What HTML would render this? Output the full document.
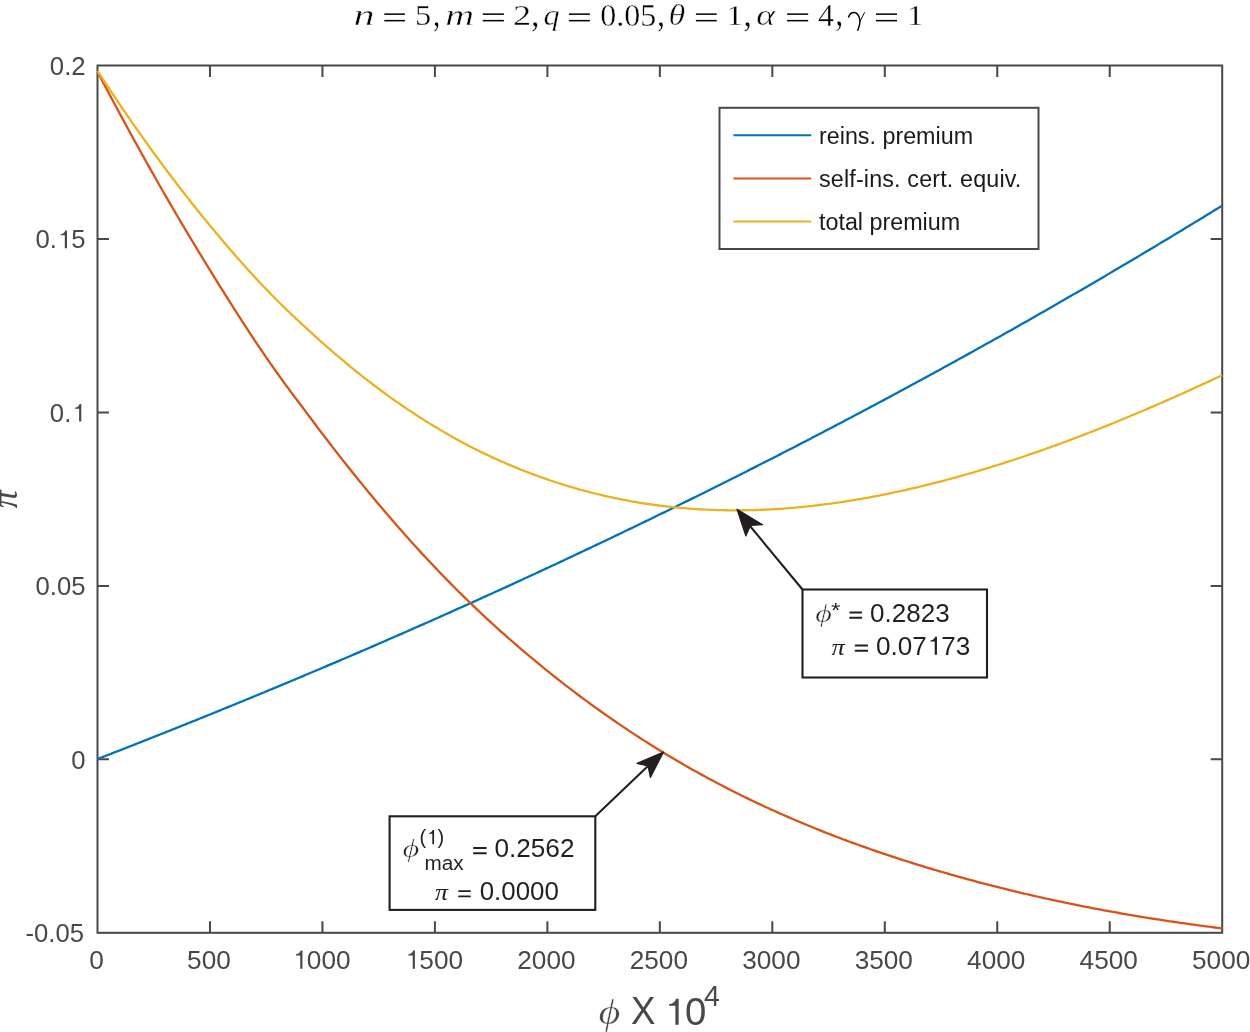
<!DOCTYPE html>
<html><head><meta charset="utf-8"><style>
html,body{margin:0;padding:0;background:#fff;overflow:hidden;}
svg{display:block;will-change:transform;}
text{font-family:"Liberation Sans",sans-serif;}
</style></head><body>
<svg width="1250" height="1032" viewBox="0 0 1250 1032">
<rect x="0" y="0" width="1250" height="1032" fill="#fff"/>
<g stroke="#46484b" stroke-width="2" fill="none">
<rect x="97.5" y="65.5" width="1124.7" height="867.3"/>
<path d="M209.97,932.80V921.30M209.97,65.50V77.00M322.44,932.80V921.30M322.44,65.50V77.00M434.91,932.80V921.30M434.91,65.50V77.00M547.38,932.80V921.30M547.38,65.50V77.00M659.85,932.80V921.30M659.85,65.50V77.00M772.32,932.80V921.30M772.32,65.50V77.00M884.79,932.80V921.30M884.79,65.50V77.00M997.26,932.80V921.30M997.26,65.50V77.00M1109.73,932.80V921.30M1109.73,65.50V77.00M97.50,238.96H109.00M1222.20,238.96H1210.70M97.50,412.42H109.00M1222.20,412.42H1210.70M97.50,585.88H109.00M1222.20,585.88H1210.70M97.50,759.34H109.00M1222.20,759.34H1210.70"/>
</g>
<g fill="none" stroke-width="2.3" stroke-linejoin="round">
<path d="M97.50,759.01 L98.50,758.62 L99.50,758.23 L100.50,757.84 L101.50,757.46 L102.50,757.07 L103.50,756.68 L104.50,756.29 L105.50,755.90 L106.50,755.51 L107.50,755.13 L108.50,754.74 L109.50,754.35 L110.50,753.96 L111.50,753.57 L112.50,753.18 L113.50,752.79 L114.50,752.40 L115.50,752.01 L116.50,751.62 L117.50,751.23 L118.50,750.84 L119.50,750.45 L120.50,750.06 L121.50,749.67 L122.50,749.28 L123.50,748.89 L124.50,748.49 L125.50,748.10 L126.50,747.71 L127.50,747.32 L128.50,746.93 L129.50,746.54 L130.50,746.14 L131.50,745.75 L132.50,745.36 L133.50,744.97 L134.50,744.57 L135.50,744.18 L136.50,743.79 L137.50,743.39 L138.50,743.00 L139.50,742.61 L140.50,742.21 L141.50,741.82 L142.50,741.42 L143.50,741.03 L144.50,740.64 L145.50,740.24 L146.50,739.85 L147.50,739.45 L148.50,739.06 L149.50,738.66 L150.50,738.27 L151.50,737.87 L152.50,737.47 L153.50,737.08 L154.50,736.68 L155.50,736.29 L156.50,735.89 L157.50,735.49 L158.50,735.10 L159.50,734.70 L160.50,734.30 L161.50,733.91 L162.50,733.51 L163.50,733.11 L164.50,732.71 L165.50,732.32 L166.50,731.92 L167.50,731.52 L168.50,731.12 L169.50,730.72 L170.50,730.32 L171.50,729.93 L172.50,729.53 L173.50,729.13 L174.50,728.73 L175.50,728.33 L176.50,727.93 L177.50,727.53 L178.50,727.13 L179.50,726.73 L180.50,726.33 L181.50,725.93 L182.50,725.53 L183.50,725.13 L184.50,724.73 L185.50,724.33 L186.50,723.93 L187.50,723.52 L188.50,723.12 L189.50,722.72 L190.50,722.32 L191.50,721.92 L192.50,721.52 L193.50,721.11 L194.50,720.71 L195.50,720.31 L196.50,719.91 L197.50,719.50 L198.50,719.10 L199.50,718.70 L200.50,718.29 L201.50,717.89 L202.50,717.49 L203.50,717.08 L204.50,716.68 L205.50,716.27 L206.50,715.87 L207.50,715.47 L208.50,715.06 L209.50,714.66 L210.50,714.25 L211.50,713.85 L212.50,713.44 L213.50,713.03 L214.50,712.63 L215.50,712.22 L216.50,711.82 L217.50,711.41 L218.50,711.00 L219.50,710.60 L220.50,710.19 L221.50,709.78 L222.50,709.38 L223.50,708.97 L224.50,708.56 L225.50,708.16 L226.50,707.75 L227.50,707.34 L228.50,706.93 L229.50,706.52 L230.50,706.12 L231.50,705.71 L232.50,705.30 L233.50,704.89 L234.50,704.48 L235.50,704.07 L236.50,703.66 L237.50,703.25 L238.50,702.84 L239.50,702.43 L240.50,702.02 L241.50,701.61 L242.50,701.20 L243.50,700.79 L244.50,700.38 L245.50,699.97 L246.50,699.56 L247.50,699.15 L248.50,698.74 L249.50,698.33 L250.50,697.92 L251.50,697.50 L252.50,697.09 L253.50,696.68 L254.50,696.27 L255.50,695.86 L256.50,695.44 L257.50,695.03 L258.50,694.62 L259.50,694.20 L260.50,693.79 L261.50,693.38 L262.50,692.96 L263.50,692.55 L264.50,692.14 L265.50,691.72 L266.50,691.31 L267.50,690.89 L268.50,690.48 L269.50,690.06 L270.50,689.65 L271.50,689.23 L272.50,688.82 L273.50,688.40 L274.50,687.99 L275.50,687.57 L276.50,687.16 L277.50,686.74 L278.50,686.32 L279.50,685.91 L280.50,685.49 L281.50,685.07 L282.50,684.66 L283.50,684.24 L284.50,683.82 L285.50,683.40 L286.50,682.99 L287.50,682.57 L288.50,682.15 L289.50,681.73 L290.50,681.31 L291.50,680.90 L292.50,680.48 L293.50,680.06 L294.50,679.64 L295.50,679.22 L296.50,678.80 L297.50,678.38 L298.50,677.96 L299.50,677.54 L300.00,677.33 L303.00,676.07 L306.00,674.81 L309.00,673.54 L312.00,672.28 L315.00,671.01 L318.00,669.74 L321.00,668.47 L324.00,667.20 L327.00,665.93 L330.00,664.65 L333.00,663.38 L336.00,662.10 L339.00,660.82 L342.00,659.54 L345.00,658.26 L348.00,656.97 L351.00,655.69 L354.00,654.40 L357.00,653.11 L360.00,651.82 L363.00,650.53 L366.00,649.23 L369.00,647.94 L372.00,646.64 L375.00,645.34 L378.00,644.04 L381.00,642.74 L384.00,641.44 L387.00,640.13 L390.00,638.82 L393.00,637.52 L396.00,636.21 L399.00,634.90 L402.00,633.58 L405.00,632.27 L408.00,630.95 L411.00,629.63 L414.00,628.31 L417.00,626.99 L420.00,625.67 L423.00,624.35 L426.00,623.02 L429.00,621.69 L432.00,620.36 L435.00,619.03 L438.00,617.70 L441.00,616.36 L444.00,615.03 L447.00,613.69 L450.00,612.35 L453.00,611.01 L456.00,609.67 L459.00,608.32 L462.00,606.98 L465.00,605.63 L468.00,604.28 L471.00,602.93 L474.00,601.58 L477.00,600.22 L480.00,598.87 L483.00,597.51 L486.00,596.15 L489.00,594.79 L492.00,593.43 L495.00,592.06 L498.00,590.70 L501.00,589.33 L504.00,587.96 L507.00,586.59 L510.00,585.22 L513.00,583.84 L516.00,582.46 L519.00,581.09 L522.00,579.71 L525.00,578.33 L528.00,576.94 L531.00,575.56 L534.00,574.17 L537.00,572.78 L540.00,571.39 L543.00,570.00 L546.00,568.61 L549.00,567.21 L552.00,565.81 L555.00,564.42 L558.00,563.02 L561.00,561.61 L564.00,560.21 L567.00,558.80 L570.00,557.40 L573.00,555.99 L576.00,554.58 L579.00,553.16 L582.00,551.75 L585.00,550.33 L588.00,548.91 L591.00,547.49 L594.00,546.07 L597.00,544.65 L600.00,543.22 L603.00,541.80 L606.00,540.37 L609.00,538.94 L612.00,537.51 L615.00,536.07 L618.00,534.64 L621.00,533.20 L624.00,531.76 L627.00,530.32 L630.00,528.87 L633.00,527.43 L636.00,525.98 L639.00,524.53 L642.00,523.08 L645.00,521.63 L648.00,520.18 L651.00,518.72 L654.00,517.26 L657.00,515.81 L660.00,514.34 L663.00,512.88 L666.00,511.42 L669.00,509.95 L672.00,508.48 L675.00,507.01 L678.00,505.54 L681.00,504.06 L684.00,502.59 L687.00,501.11 L690.00,499.63 L693.00,498.15 L696.00,496.67 L699.00,495.18 L702.00,493.69 L705.00,492.21 L708.00,490.72 L711.00,489.22 L714.00,487.73 L717.00,486.23 L720.00,484.73 L723.00,483.23 L726.00,481.73 L729.00,480.23 L732.00,478.72 L735.00,477.21 L738.00,475.70 L741.00,474.19 L744.00,472.68 L747.00,471.17 L750.00,469.65 L753.00,468.13 L756.00,466.61 L759.00,465.09 L762.00,463.56 L765.00,462.03 L768.00,460.51 L771.00,458.98 L774.00,457.44 L777.00,455.91 L780.00,454.37 L783.00,452.83 L786.00,451.29 L789.00,449.75 L792.00,448.21 L795.00,446.66 L798.00,445.12 L801.00,443.57 L804.00,442.01 L807.00,440.46 L810.00,438.91 L813.00,437.35 L816.00,435.79 L819.00,434.23 L822.00,432.66 L825.00,431.10 L828.00,429.53 L831.00,427.96 L834.00,426.39 L837.00,424.82 L840.00,423.24 L843.00,421.67 L846.00,420.09 L849.00,418.51 L852.00,416.92 L855.00,415.34 L858.00,413.75 L861.00,412.16 L864.00,410.57 L867.00,408.98 L870.00,407.38 L873.00,405.79 L876.00,404.19 L879.00,402.59 L882.00,400.98 L885.00,399.38 L888.00,397.77 L891.00,396.16 L894.00,394.55 L897.00,392.94 L900.00,391.32 L903.00,389.71 L906.00,388.09 L909.00,386.47 L912.00,384.84 L915.00,383.22 L918.00,381.59 L921.00,379.96 L924.00,378.33 L927.00,376.70 L930.00,375.06 L933.00,373.43 L936.00,371.79 L939.00,370.15 L942.00,368.50 L945.00,366.86 L948.00,365.21 L951.00,363.56 L954.00,361.91 L957.00,360.25 L960.00,358.60 L963.00,356.94 L966.00,355.28 L969.00,353.62 L972.00,351.95 L975.00,350.29 L978.00,348.62 L981.00,346.95 L984.00,345.28 L987.00,343.60 L990.00,341.93 L993.00,340.25 L996.00,338.57 L999.00,336.88 L1002.00,335.20 L1005.00,333.51 L1008.00,331.82 L1011.00,330.13 L1014.00,328.44 L1017.00,326.74 L1020.00,325.04 L1023.00,323.35 L1026.00,321.64 L1029.00,319.94 L1032.00,318.23 L1035.00,316.53 L1038.00,314.81 L1041.00,313.10 L1044.00,311.39 L1047.00,309.67 L1050.00,307.95 L1053.00,306.23 L1056.00,304.51 L1059.00,302.78 L1062.00,301.06 L1065.00,299.33 L1068.00,297.59 L1071.00,295.86 L1074.00,294.12 L1077.00,292.39 L1080.00,290.65 L1083.00,288.90 L1086.00,287.16 L1089.00,285.41 L1092.00,283.66 L1095.00,281.91 L1098.00,280.16 L1101.00,278.40 L1104.00,276.64 L1107.00,274.88 L1110.00,273.12 L1113.00,271.36 L1116.00,269.59 L1119.00,267.82 L1122.00,266.05 L1125.00,264.28 L1128.00,262.50 L1131.00,260.73 L1134.00,258.95 L1137.00,257.17 L1140.00,255.38 L1143.00,253.59 L1146.00,251.81 L1149.00,250.02 L1152.00,248.22 L1155.00,246.43 L1158.00,244.63 L1161.00,242.83 L1164.00,241.03 L1167.00,239.22 L1170.00,237.42 L1173.00,235.61 L1176.00,233.80 L1179.00,231.99 L1182.00,230.17 L1185.00,228.35 L1188.00,226.53 L1191.00,224.71 L1194.00,222.89 L1197.00,221.06 L1200.00,219.23 L1203.00,217.40 L1206.00,215.57 L1209.00,213.73 L1212.00,211.89 L1215.00,210.05 L1218.00,208.21 L1221.00,206.37 L1222.20,205.63" stroke="#0072bd"/>
<path d="M97.50,71.72 L98.50,73.63 L99.50,75.53 L100.50,77.43 L101.50,79.33 L102.50,81.23 L103.50,83.13 L104.50,85.02 L105.50,86.91 L106.50,88.80 L107.50,90.69 L108.50,92.57 L109.50,94.45 L110.50,96.33 L111.50,98.21 L112.50,100.08 L113.50,101.95 L114.50,103.82 L115.50,105.69 L116.50,107.55 L117.50,109.41 L118.50,111.27 L119.50,113.12 L120.50,114.98 L121.50,116.83 L122.50,118.68 L123.50,120.52 L124.50,122.36 L125.50,124.21 L126.50,126.04 L127.50,127.88 L128.50,129.71 L129.50,131.54 L130.50,133.37 L131.50,135.19 L132.50,137.02 L133.50,138.84 L134.50,140.65 L135.50,142.47 L136.50,144.28 L137.50,146.09 L138.50,147.90 L139.50,149.70 L140.50,151.50 L141.50,153.30 L142.50,155.10 L143.50,156.89 L144.50,158.68 L145.50,160.47 L146.50,162.26 L147.50,164.04 L148.50,165.82 L149.50,167.60 L150.50,169.37 L151.50,171.15 L152.50,172.92 L153.50,174.68 L154.50,176.45 L155.50,178.21 L156.50,179.97 L157.50,181.73 L158.50,183.48 L159.50,185.23 L160.50,186.98 L161.50,188.72 L162.50,190.47 L163.50,192.21 L164.50,193.95 L165.50,195.68 L166.50,197.41 L167.50,199.14 L168.50,200.87 L169.50,202.59 L170.50,204.31 L171.50,206.03 L172.50,207.75 L173.50,209.46 L174.50,211.17 L175.50,212.88 L176.50,214.58 L177.50,216.28 L178.50,217.98 L179.50,219.68 L180.50,221.37 L181.50,223.06 L182.50,224.75 L183.50,226.44 L184.50,228.12 L185.50,229.80 L186.50,231.48 L187.50,233.15 L188.50,234.83 L189.50,236.49 L190.50,238.16 L191.50,239.83 L192.50,241.49 L193.50,243.15 L194.50,244.81 L195.50,246.46 L196.50,248.11 L197.50,249.76 L198.50,251.41 L199.50,253.06 L200.50,254.70 L201.50,256.34 L202.50,257.98 L203.50,259.62 L204.50,261.25 L205.50,262.89 L206.50,264.52 L207.50,266.14 L208.50,267.77 L209.50,269.39 L210.50,271.02 L211.50,272.64 L212.50,274.26 L213.50,275.87 L214.50,277.49 L215.50,279.10 L216.50,280.71 L217.50,282.32 L218.50,283.92 L219.50,285.53 L220.50,287.13 L221.50,288.73 L222.50,290.33 L223.50,291.93 L224.50,293.52 L225.50,295.11 L226.50,296.70 L227.50,298.29 L228.50,299.88 L229.50,301.46 L230.50,303.04 L231.50,304.61 L232.50,306.19 L233.50,307.76 L234.50,309.33 L235.50,310.90 L236.50,312.46 L237.50,314.02 L238.50,315.58 L239.50,317.13 L240.50,318.69 L241.50,320.24 L242.50,321.78 L243.50,323.32 L244.50,324.86 L245.50,326.40 L246.50,327.93 L247.50,329.46 L248.50,330.99 L249.50,332.51 L250.50,334.03 L251.50,335.54 L252.50,337.06 L253.50,338.56 L254.50,340.07 L255.50,341.57 L256.50,343.07 L257.50,344.56 L258.50,346.05 L259.50,347.53 L260.50,349.01 L261.50,350.49 L262.50,351.96 L263.50,353.43 L264.50,354.90 L265.50,356.36 L266.50,357.81 L267.50,359.26 L268.50,360.71 L269.50,362.15 L270.50,363.59 L271.50,365.03 L272.50,366.46 L273.50,367.88 L274.50,369.30 L275.50,370.71 L276.50,372.12 L277.50,373.53 L278.50,374.93 L279.50,376.32 L280.50,377.71 L281.50,379.10 L282.50,380.48 L283.50,381.85 L284.50,383.22 L285.50,384.59 L286.50,385.95 L287.50,387.30 L288.50,388.65 L289.50,390.00 L290.50,391.34 L291.50,392.68 L292.50,394.02 L293.50,395.36 L294.50,396.70 L295.50,398.04 L296.50,399.37 L297.50,400.71 L298.50,402.05 L299.50,403.39 L300.00,404.06 L303.00,408.06 L306.00,412.07 L309.00,416.06 L312.00,420.05 L315.00,424.03 L318.00,428.00 L321.00,431.95 L324.00,435.89 L327.00,439.82 L330.00,443.73 L333.00,447.62 L336.00,451.49 L339.00,455.34 L342.00,459.17 L345.00,462.97 L348.00,466.76 L351.00,470.53 L354.00,474.28 L357.00,478.00 L360.00,481.71 L363.00,485.39 L366.00,489.05 L369.00,492.69 L372.00,496.31 L375.00,499.91 L378.00,503.49 L381.00,507.05 L384.00,510.59 L387.00,514.10 L390.00,517.59 L393.00,521.07 L396.00,524.52 L399.00,527.95 L402.00,531.35 L405.00,534.74 L408.00,538.10 L411.00,541.45 L414.00,544.77 L417.00,548.07 L420.00,551.35 L423.00,554.60 L426.00,557.84 L429.00,561.05 L432.00,564.24 L435.00,567.41 L438.00,570.56 L441.00,573.68 L444.00,576.78 L447.00,579.86 L450.00,582.92 L453.00,585.96 L456.00,588.97 L459.00,591.96 L462.00,594.93 L465.00,597.87 L468.00,600.80 L471.00,603.70 L474.00,606.57 L477.00,609.43 L480.00,612.26 L483.00,615.07 L486.00,617.87 L489.00,620.64 L492.00,623.39 L495.00,626.12 L498.00,628.83 L501.00,631.52 L504.00,634.19 L507.00,636.85 L510.00,639.49 L513.00,642.11 L516.00,644.71 L519.00,647.29 L522.00,649.86 L525.00,652.41 L528.00,654.95 L531.00,657.47 L534.00,659.97 L537.00,662.45 L540.00,664.92 L543.00,667.37 L546.00,669.80 L549.00,672.21 L552.00,674.61 L555.00,677.00 L558.00,679.36 L561.00,681.72 L564.00,684.05 L567.00,686.37 L570.00,688.67 L573.00,690.96 L576.00,693.23 L579.00,695.48 L582.00,697.72 L585.00,699.94 L588.00,702.14 L591.00,704.33 L594.00,706.51 L597.00,708.67 L600.00,710.81 L603.00,712.94 L606.00,715.05 L609.00,717.15 L612.00,719.23 L615.00,721.30 L618.00,723.35 L621.00,725.39 L624.00,727.41 L627.00,729.41 L630.00,731.41 L633.00,733.38 L636.00,735.34 L639.00,737.29 L642.00,739.22 L645.00,741.14 L648.00,743.04 L651.00,744.93 L654.00,746.81 L657.00,748.67 L660.00,750.51 L663.00,752.34 L666.00,754.16 L669.00,755.96 L672.00,757.75 L675.00,759.53 L678.00,761.29 L681.00,763.03 L684.00,764.77 L687.00,766.49 L690.00,768.19 L693.00,769.89 L696.00,771.56 L699.00,773.23 L702.00,774.88 L705.00,776.52 L708.00,778.15 L711.00,779.76 L714.00,781.36 L717.00,782.95 L720.00,784.52 L723.00,786.08 L726.00,787.63 L729.00,789.17 L732.00,790.70 L735.00,792.21 L738.00,793.71 L741.00,795.20 L744.00,796.67 L747.00,798.14 L750.00,799.59 L753.00,801.03 L756.00,802.46 L759.00,803.88 L762.00,805.28 L765.00,806.68 L768.00,808.06 L771.00,809.43 L774.00,810.79 L777.00,812.14 L780.00,813.48 L783.00,814.81 L786.00,816.13 L789.00,817.43 L792.00,818.73 L795.00,820.01 L798.00,821.29 L801.00,822.55 L804.00,823.81 L807.00,825.05 L810.00,826.29 L813.00,827.51 L816.00,828.73 L819.00,829.93 L822.00,831.13 L825.00,832.31 L828.00,833.49 L831.00,834.65 L834.00,835.81 L837.00,836.96 L840.00,838.10 L843.00,839.23 L846.00,840.35 L849.00,841.46 L852.00,842.56 L855.00,843.66 L858.00,844.74 L861.00,845.82 L864.00,846.89 L867.00,847.95 L870.00,849.00 L873.00,850.04 L876.00,851.08 L879.00,852.11 L882.00,853.13 L885.00,854.14 L888.00,855.14 L891.00,856.14 L894.00,857.13 L897.00,858.11 L900.00,859.09 L903.00,860.05 L906.00,861.01 L909.00,861.97 L912.00,862.91 L915.00,863.85 L918.00,864.78 L921.00,865.71 L924.00,866.63 L927.00,867.54 L930.00,868.44 L933.00,869.34 L936.00,870.23 L939.00,871.12 L942.00,871.99 L945.00,872.87 L948.00,873.73 L951.00,874.59 L954.00,875.44 L957.00,876.29 L960.00,877.13 L963.00,877.96 L966.00,878.78 L969.00,879.60 L972.00,880.42 L975.00,881.22 L978.00,882.03 L981.00,882.82 L984.00,883.61 L987.00,884.39 L990.00,885.17 L993.00,885.93 L996.00,886.70 L999.00,887.45 L1002.00,888.21 L1005.00,888.95 L1008.00,889.69 L1011.00,890.42 L1014.00,891.15 L1017.00,891.87 L1020.00,892.58 L1023.00,893.29 L1026.00,894.00 L1029.00,894.69 L1032.00,895.38 L1035.00,896.07 L1038.00,896.75 L1041.00,897.42 L1044.00,898.09 L1047.00,898.75 L1050.00,899.41 L1053.00,900.06 L1056.00,900.71 L1059.00,901.35 L1062.00,901.98 L1065.00,902.61 L1068.00,903.23 L1071.00,903.85 L1074.00,904.46 L1077.00,905.07 L1080.00,905.67 L1083.00,906.26 L1086.00,906.85 L1089.00,907.44 L1092.00,908.02 L1095.00,908.59 L1098.00,909.16 L1101.00,909.73 L1104.00,910.28 L1107.00,910.84 L1110.00,911.39 L1113.00,911.93 L1116.00,912.47 L1119.00,913.00 L1122.00,913.53 L1125.00,914.05 L1128.00,914.57 L1131.00,915.08 L1134.00,915.59 L1137.00,916.09 L1140.00,916.58 L1143.00,917.08 L1146.00,917.57 L1149.00,918.05 L1152.00,918.53 L1155.00,919.00 L1158.00,919.47 L1161.00,919.93 L1164.00,920.39 L1167.00,920.84 L1170.00,921.29 L1173.00,921.74 L1176.00,922.18 L1179.00,922.62 L1182.00,923.05 L1185.00,923.47 L1188.00,923.89 L1191.00,924.31 L1194.00,924.73 L1197.00,925.13 L1200.00,925.54 L1203.00,925.94 L1206.00,926.33 L1209.00,926.72 L1212.00,927.11 L1215.00,927.49 L1218.00,927.87 L1221.00,928.25 L1222.20,928.40" stroke="#d95319"/>
<path d="M97.50,70.88 L98.50,72.42 L99.50,73.96 L100.50,75.49 L101.50,77.03 L102.50,78.55 L103.50,80.08 L104.50,81.60 L105.50,83.12 L106.50,84.64 L107.50,86.16 L108.50,87.67 L109.50,89.18 L110.50,90.68 L111.50,92.18 L112.50,93.68 L113.50,95.18 L114.50,96.67 L115.50,98.16 L116.50,99.65 L117.50,101.14 L118.50,102.62 L119.50,104.10 L120.50,105.57 L121.50,107.04 L122.50,108.51 L123.50,109.98 L124.50,111.44 L125.50,112.91 L126.50,114.36 L127.50,115.82 L128.50,117.27 L129.50,118.72 L130.50,120.16 L131.50,121.61 L132.50,123.05 L133.50,124.48 L134.50,125.92 L135.50,127.35 L136.50,128.78 L137.50,130.20 L138.50,131.62 L139.50,133.04 L140.50,134.46 L141.50,135.87 L142.50,137.28 L143.50,138.69 L144.50,140.09 L145.50,141.50 L146.50,142.89 L147.50,144.29 L148.50,145.68 L149.50,147.07 L150.50,148.46 L151.50,149.84 L152.50,151.22 L153.50,152.60 L154.50,153.97 L155.50,155.34 L156.50,156.71 L157.50,158.08 L158.50,159.44 L159.50,160.80 L160.50,162.15 L161.50,163.51 L162.50,164.86 L163.50,166.20 L164.50,167.55 L165.50,168.89 L166.50,170.23 L167.50,171.56 L168.50,172.89 L169.50,174.22 L170.50,175.55 L171.50,176.87 L172.50,178.19 L173.50,179.51 L174.50,180.82 L175.50,182.14 L176.50,183.44 L177.50,184.75 L178.50,186.05 L179.50,187.35 L180.50,188.65 L181.50,189.94 L182.50,191.23 L183.50,192.52 L184.50,193.80 L185.50,195.08 L186.50,196.36 L187.50,197.63 L188.50,198.91 L189.50,200.18 L190.50,201.44 L191.50,202.71 L192.50,203.97 L193.50,205.23 L194.50,206.48 L195.50,207.73 L196.50,208.98 L197.50,210.23 L198.50,211.48 L199.50,212.72 L200.50,213.96 L201.50,215.19 L202.50,216.42 L203.50,217.66 L204.50,218.88 L205.50,220.11 L206.50,221.33 L207.50,222.55 L208.50,223.77 L209.50,224.98 L210.50,226.20 L211.50,227.40 L212.50,228.61 L213.50,229.82 L214.50,231.02 L215.50,232.22 L216.50,233.41 L217.50,234.61 L218.50,235.80 L219.50,236.99 L220.50,238.18 L221.50,239.36 L222.50,240.54 L223.50,241.72 L224.50,242.90 L225.50,244.07 L226.50,245.24 L227.50,246.41 L228.50,247.57 L229.50,248.74 L230.50,249.90 L231.50,251.05 L232.50,252.21 L233.50,253.36 L234.50,254.51 L235.50,255.65 L236.50,256.79 L237.50,257.93 L238.50,259.07 L239.50,260.20 L240.50,261.33 L241.50,262.46 L242.50,263.58 L243.50,264.70 L244.50,265.82 L245.50,266.94 L246.50,268.05 L247.50,269.15 L248.50,270.26 L249.50,271.36 L250.50,272.46 L251.50,273.55 L252.50,274.65 L253.50,275.73 L254.50,276.82 L255.50,277.90 L256.50,278.98 L257.50,280.05 L258.50,281.12 L259.50,282.19 L260.50,283.26 L261.50,284.32 L262.50,285.37 L263.50,286.43 L264.50,287.48 L265.50,288.52 L266.50,289.56 L267.50,290.60 L268.50,291.64 L269.50,292.67 L270.50,293.70 L271.50,294.72 L272.50,295.74 L273.50,296.76 L274.50,297.77 L275.50,298.78 L276.50,299.78 L277.50,300.78 L278.50,301.78 L279.50,302.77 L280.50,303.76 L281.50,304.74 L282.50,305.72 L283.50,306.70 L284.50,307.67 L285.50,308.64 L286.50,309.60 L287.50,310.56 L288.50,311.52 L289.50,312.47 L290.50,313.42 L291.50,314.37 L292.50,315.31 L293.50,316.26 L294.50,317.20 L295.50,318.14 L296.50,319.08 L297.50,320.02 L298.50,320.95 L299.50,321.89 L300.00,322.35 L303.00,325.14 L306.00,327.91 L309.00,330.67 L312.00,333.41 L315.00,336.13 L318.00,338.83 L321.00,341.52 L324.00,344.18 L327.00,346.82 L330.00,349.44 L333.00,352.04 L336.00,354.62 L339.00,357.17 L342.00,359.71 L345.00,362.21 L348.00,364.70 L351.00,367.16 L354.00,369.60 L357.00,372.01 L360.00,374.41 L363.00,376.78 L366.00,379.12 L369.00,381.45 L372.00,383.75 L375.00,386.03 L378.00,388.28 L381.00,390.51 L384.00,392.72 L387.00,394.91 L390.00,397.07 L393.00,399.21 L396.00,401.33 L399.00,403.43 L402.00,405.50 L405.00,407.55 L408.00,409.58 L411.00,411.58 L414.00,413.56 L417.00,415.52 L420.00,417.46 L423.00,419.37 L426.00,421.26 L429.00,423.13 L432.00,424.98 L435.00,426.80 L438.00,428.60 L441.00,430.38 L444.00,432.13 L447.00,433.86 L450.00,435.57 L453.00,437.26 L456.00,438.93 L459.00,440.57 L462.00,442.19 L465.00,443.78 L468.00,445.36 L471.00,446.91 L474.00,448.44 L477.00,449.95 L480.00,451.43 L483.00,452.89 L486.00,454.34 L489.00,455.76 L492.00,457.16 L495.00,458.53 L498.00,459.89 L501.00,461.23 L504.00,462.55 L507.00,463.84 L510.00,465.12 L513.00,466.38 L516.00,467.62 L519.00,468.84 L522.00,470.04 L525.00,471.22 L528.00,472.38 L531.00,473.52 L534.00,474.65 L537.00,475.75 L540.00,476.84 L543.00,477.91 L546.00,478.96 L549.00,479.99 L552.00,481.00 L555.00,481.99 L558.00,482.97 L561.00,483.92 L564.00,484.86 L567.00,485.78 L570.00,486.69 L573.00,487.57 L576.00,488.44 L579.00,489.28 L582.00,490.11 L585.00,490.93 L588.00,491.72 L591.00,492.50 L594.00,493.26 L597.00,494.00 L600.00,494.72 L603.00,495.43 L606.00,496.12 L609.00,496.79 L612.00,497.45 L615.00,498.08 L618.00,498.70 L621.00,499.31 L624.00,499.89 L627.00,500.46 L630.00,501.02 L633.00,501.55 L636.00,502.07 L639.00,502.58 L642.00,503.06 L645.00,503.53 L648.00,503.99 L651.00,504.42 L654.00,504.85 L657.00,505.25 L660.00,505.64 L663.00,506.01 L666.00,506.37 L669.00,506.71 L672.00,507.03 L675.00,507.34 L678.00,507.64 L681.00,507.91 L684.00,508.17 L687.00,508.42 L690.00,508.65 L693.00,508.87 L696.00,509.07 L699.00,509.25 L702.00,509.42 L705.00,509.58 L708.00,509.72 L711.00,509.84 L714.00,509.95 L717.00,510.05 L720.00,510.13 L723.00,510.20 L726.00,510.25 L729.00,510.28 L732.00,510.31 L735.00,510.32 L738.00,510.31 L741.00,510.29 L744.00,510.26 L747.00,510.21 L750.00,510.15 L753.00,510.07 L756.00,509.99 L759.00,509.88 L762.00,509.77 L765.00,509.64 L768.00,509.50 L771.00,509.34 L774.00,509.17 L777.00,508.99 L780.00,508.79 L783.00,508.58 L786.00,508.36 L789.00,508.13 L792.00,507.88 L795.00,507.62 L798.00,507.35 L801.00,507.07 L804.00,506.77 L807.00,506.46 L810.00,506.14 L813.00,505.81 L816.00,505.46 L819.00,505.10 L822.00,504.73 L825.00,504.35 L828.00,503.96 L831.00,503.55 L834.00,503.14 L837.00,502.71 L840.00,502.27 L843.00,501.82 L846.00,501.36 L849.00,500.88 L852.00,500.40 L855.00,499.90 L858.00,499.40 L861.00,498.88 L864.00,498.35 L867.00,497.81 L870.00,497.26 L873.00,496.70 L876.00,496.13 L879.00,495.55 L882.00,494.96 L885.00,494.36 L888.00,493.75 L891.00,493.12 L894.00,492.49 L897.00,491.85 L900.00,491.20 L903.00,490.54 L906.00,489.87 L909.00,489.19 L912.00,488.49 L915.00,487.80 L918.00,487.09 L921.00,486.37 L924.00,485.64 L927.00,484.90 L930.00,484.16 L933.00,483.40 L936.00,482.64 L939.00,481.86 L942.00,481.08 L945.00,480.29 L948.00,479.49 L951.00,478.68 L954.00,477.86 L957.00,477.04 L960.00,476.20 L963.00,475.36 L966.00,474.51 L969.00,473.65 L972.00,472.78 L975.00,471.90 L978.00,471.01 L981.00,470.12 L984.00,469.22 L987.00,468.30 L990.00,467.38 L993.00,466.46 L996.00,465.52 L999.00,464.58 L1002.00,463.63 L1005.00,462.67 L1008.00,461.70 L1011.00,460.72 L1014.00,459.74 L1017.00,458.75 L1020.00,457.75 L1023.00,456.74 L1026.00,455.73 L1029.00,454.71 L1032.00,453.68 L1035.00,452.64 L1038.00,451.60 L1041.00,450.55 L1044.00,449.49 L1047.00,448.42 L1050.00,447.35 L1053.00,446.27 L1056.00,445.18 L1059.00,444.09 L1062.00,442.98 L1065.00,441.87 L1068.00,440.76 L1071.00,439.64 L1074.00,438.51 L1077.00,437.37 L1080.00,436.23 L1083.00,435.08 L1086.00,433.92 L1089.00,432.76 L1092.00,431.59 L1095.00,430.41 L1098.00,429.23 L1101.00,428.04 L1104.00,426.84 L1107.00,425.64 L1110.00,424.43 L1113.00,423.22 L1116.00,422.00 L1119.00,420.77 L1122.00,419.54 L1125.00,418.30 L1128.00,417.06 L1131.00,415.81 L1134.00,414.55 L1137.00,413.29 L1140.00,412.02 L1143.00,410.75 L1146.00,409.47 L1149.00,408.18 L1152.00,406.89 L1155.00,405.59 L1158.00,404.29 L1161.00,402.98 L1164.00,401.67 L1167.00,400.35 L1170.00,399.03 L1173.00,397.70 L1176.00,396.37 L1179.00,395.03 L1182.00,393.68 L1185.00,392.33 L1188.00,390.98 L1191.00,389.62 L1194.00,388.26 L1197.00,386.89 L1200.00,385.51 L1203.00,384.13 L1206.00,382.75 L1209.00,381.36 L1212.00,379.97 L1215.00,378.57 L1218.00,377.17 L1221.00,375.76 L1222.20,375.20" stroke="#edb120"/>
</g>
<g fill="#46484b" font-size="25.7">
<g transform="translate(96.50,968.7) scale(1.02,1.025)"><text x="-7.15" y="0.00" font-size="25.7" fill="#46484b" >0</text></g>
<g transform="translate(208.97,968.7) scale(1.02,1.025)"><text x="-21.44" y="0.00" font-size="25.7" fill="#46484b" >500</text></g>
<g transform="translate(321.44,968.7) scale(1.02,1.025)"><text x="-28.59" y="0.00" font-size="25.7" fill="#46484b" >&#x2007;000</text><path d="M622,0 L796,0 L796,1409 L650,1409 C630,1290 530,1150 285,1115 L285,1030 L622,1030 Z" fill="#46484b" transform="matrix(0.01255 0 0 -0.01255 -28.59 0.00)"/></g>
<g transform="translate(433.91,968.7) scale(1.02,1.025)"><text x="-28.59" y="0.00" font-size="25.7" fill="#46484b" >&#x2007;500</text><path d="M622,0 L796,0 L796,1409 L650,1409 C630,1290 530,1150 285,1115 L285,1030 L622,1030 Z" fill="#46484b" transform="matrix(0.01255 0 0 -0.01255 -28.59 0.00)"/></g>
<g transform="translate(546.38,968.7) scale(1.02,1.025)"><text x="-28.59" y="0.00" font-size="25.7" fill="#46484b" >2000</text></g>
<g transform="translate(658.85,968.7) scale(1.02,1.025)"><text x="-28.59" y="0.00" font-size="25.7" fill="#46484b" >2500</text></g>
<g transform="translate(771.32,968.7) scale(1.02,1.025)"><text x="-28.59" y="0.00" font-size="25.7" fill="#46484b" >3000</text></g>
<g transform="translate(883.79,968.7) scale(1.02,1.025)"><text x="-28.59" y="0.00" font-size="25.7" fill="#46484b" >3500</text></g>
<g transform="translate(996.26,968.7) scale(1.02,1.025)"><text x="-28.59" y="0.00" font-size="25.7" fill="#46484b" >4000</text></g>
<g transform="translate(1108.73,968.7) scale(1.02,1.025)"><text x="-28.59" y="0.00" font-size="25.7" fill="#46484b" >4500</text></g>
<g transform="translate(1221.20,968.7) scale(1.02,1.025)"><text x="-28.59" y="0.00" font-size="25.7" fill="#46484b" >5000</text></g>
<text x="49.87" y="74.70" font-size="25.7" fill="#46484b" >0.2</text>
<text x="35.58" y="248.16" font-size="25.7" fill="#46484b" >0.&#x2007;5</text><path d="M622,0 L796,0 L796,1409 L650,1409 C630,1290 530,1150 285,1115 L285,1030 L622,1030 Z" fill="#46484b" transform="matrix(0.01255 0 0 -0.01255 57.01 248.16)"/>
<text x="49.87" y="421.62" font-size="25.7" fill="#46484b" >0.&#x2007;</text><path d="M622,0 L796,0 L796,1409 L650,1409 C630,1290 530,1150 285,1115 L285,1030 L622,1030 Z" fill="#46484b" transform="matrix(0.01255 0 0 -0.01255 71.31 421.62)"/>
<text x="35.58" y="595.08" font-size="25.7" fill="#46484b" >0.05</text>
<text x="71.31" y="768.54" font-size="25.7" fill="#46484b" >0</text>
<text x="25.42" y="942.00" font-size="25.7" fill="#46484b" >-0.05</text>
</g>
<text transform="translate(17,499.3) rotate(-90)" style="font-family:Liberation Serif,serif" font-style="italic" font-size="36" text-anchor="middle" fill="#46484b">&#x3C0;</text>
<rect x="384.3" y="13.4" width="20.6" height="1.5" fill="#000"/><rect x="384.3" y="19.9" width="20.6" height="1.5" fill="#000"/>
<rect x="482.8" y="13.4" width="21.1" height="1.5" fill="#000"/><rect x="482.8" y="19.9" width="21.1" height="1.5" fill="#000"/>
<rect x="568.9" y="13.4" width="21.0" height="1.5" fill="#000"/><rect x="568.9" y="19.9" width="21.0" height="1.5" fill="#000"/>
<rect x="695.9" y="13.4" width="20.8" height="1.5" fill="#000"/><rect x="695.9" y="19.9" width="20.8" height="1.5" fill="#000"/>
<rect x="787.1" y="13.4" width="21.1" height="1.5" fill="#000"/><rect x="787.1" y="19.9" width="21.1" height="1.5" fill="#000"/>
<rect x="876.0" y="13.4" width="21.0" height="1.5" fill="#000"/><rect x="876.0" y="19.9" width="21.0" height="1.5" fill="#000"/>
<rect x="719.5" y="107.8" width="319" height="141.2" fill="#fff" stroke="#46484b" stroke-width="2"/>
<line x1="733.4" x2="811.2" y1="135.3" y2="135.3" stroke="#0072bd" stroke-width="2"/>
<line x1="733.4" x2="811.2" y1="178.4" y2="178.4" stroke="#d95319" stroke-width="2"/>
<line x1="733.4" x2="811.2" y1="221.6" y2="221.6" stroke="#edb120" stroke-width="2"/>
<text x="819" y="144.0" font-size="23.3" fill="#1a1a1a" letter-spacing="0.00">reins. premium</text>
<text x="819" y="187.2" font-size="23.3" fill="#1a1a1a" letter-spacing="0.16">self-ins. cert. equiv.</text>
<text x="819" y="229.9" font-size="23.3" fill="#1a1a1a" letter-spacing="0.00">total premium</text>
<g stroke="#231f20" stroke-width="2.1" fill="none">
<rect x="802.5" y="589.5" width="184.5" height="88"/>
<line x1="802.5" y1="589.5" x2="745" y2="520"/>
<rect x="389.6" y="816.3" width="205.7" height="93.6"/>
<line x1="595.3" y1="816.3" x2="648" y2="766"/>
</g>
<g fill="#231f20" stroke="#231f20" stroke-width="1.2" stroke-linejoin="round">
<path d="M737,509.2 L762.6,524.7 L750.5,525.5 L745.8,535.9 Z"/>
<path d="M663.5,752 L637,763.4 L648,766 L650.4,777.4 Z"/>
</g>
<rect x="849.3" y="611.55" width="12.8" height="1.9" rx="0.6" fill="#231f20"/>
<rect x="849.3" y="616.85" width="12.8" height="1.9" rx="0.6" fill="#231f20"/>
<rect x="854.8" y="644.55" width="13.2" height="1.9" rx="0.6" fill="#231f20"/>
<rect x="854.8" y="649.85" width="13.2" height="1.9" rx="0.6" fill="#231f20"/>
<rect x="473.1" y="847.05" width="13.6" height="1.9" rx="0.6" fill="#231f20"/>
<rect x="473.1" y="852.35" width="13.6" height="1.9" rx="0.6" fill="#231f20"/>
<rect x="458.2" y="890.15" width="12.6" height="1.9" rx="0.6" fill="#231f20"/>
<rect x="458.2" y="895.45" width="12.6" height="1.9" rx="0.6" fill="#231f20"/>
<g fill="none" stroke="#000" stroke-linecap="round"><path d="M848.7,17.0 C849.6,13.6 851.9,12.5 854.2,12.5 C857.1,12.5 858.9,15.2 859.8,19.6 C860.2,22.5 859.2,26.6 857.8,30.2" stroke-width="1.45"/><path d="M860.1,21.2 L864.5,12.6" stroke-width="0.95"/></g>
<g transform="matrix(1.4085 0 0 1.0143 353.55 24.95)"><text x="0" y="0" font-size="30" fill="#000" style="font-family:Liberation Serif,serif" font-style="italic" stroke="#fff" stroke-width="0.45">n</text></g>
<g transform="matrix(1.0833 0 0 0.9826 415.10 24.60)"><text x="0" y="0" font-size="30" fill="#000" style="font-family:Liberation Serif,serif" stroke="#fff" stroke-width="0.35">5</text></g>
<g transform="matrix(0.9800 0 0 1.2623 433.10 25.50)"><text x="0" y="0" font-size="30" fill="#000" style="font-family:Liberation Serif,serif" stroke="#fff" stroke-width="0.35">,</text></g>
<g transform="matrix(1.3333 0 0 1.0143 445.20 24.95)"><text x="0" y="0" font-size="30" fill="#000" style="font-family:Liberation Serif,serif" font-style="italic" stroke="#fff" stroke-width="0.45">m</text></g>
<g transform="matrix(1.2100 0 0 0.9826 513.00 24.60)"><text x="0" y="0" font-size="30" fill="#000" style="font-family:Liberation Serif,serif" stroke="#fff" stroke-width="0.35">2</text></g>
<g transform="matrix(1.1250 0 0 1.2623 530.95 25.50)"><text x="0" y="0" font-size="30" fill="#000" style="font-family:Liberation Serif,serif" stroke="#fff" stroke-width="0.35">,</text></g>
<g transform="matrix(1.0784 0 0 1.0100 543.45 24.95)"><text x="0" y="0" font-size="30" fill="#000" style="font-family:Liberation Serif,serif" font-style="italic" stroke="#fff" stroke-width="0.45">q</text></g>
<g transform="matrix(1.0680 0 0 1.0533 600.25 25.75)"><text x="0" y="0" font-size="30" fill="#000" style="font-family:Liberation Serif,serif" stroke="#fff" stroke-width="0.35">0.05</text></g>
<g transform="matrix(1.0756 0 0 1.2623 656.90 25.50)"><text x="0" y="0" font-size="30" fill="#000" style="font-family:Liberation Serif,serif" stroke="#fff" stroke-width="0.35">,</text></g>
<g transform="matrix(1.1339 0 0 0.9810 668.55 25.10)"><text x="0" y="0" font-size="30" fill="#000" style="font-family:Liberation Serif,serif" font-style="italic" stroke="#fff" stroke-width="0.45">&#x3B8;</text></g>
<g transform="matrix(1.1683 0 0 1.0025 725.95 24.70)"><text x="0" y="0" font-size="30" fill="#000" style="font-family:Liberation Serif,serif" stroke="#fff" stroke-width="0.35">1</text></g>
<g transform="matrix(1.1756 0 0 1.2623 743.30 25.50)"><text x="0" y="0" font-size="30" fill="#000" style="font-family:Liberation Serif,serif" stroke="#fff" stroke-width="0.35">,</text></g>
<g transform="matrix(1.2010 0 0 0.9716 756.35 25.30)"><text x="0" y="0" font-size="30" fill="#000" style="font-family:Liberation Serif,serif" font-style="italic" stroke="#fff" stroke-width="0.45">&#x3B1;</text></g>
<g transform="matrix(1.0634 0 0 1.0227 818.00 25.60)"><text x="0" y="0" font-size="30" fill="#000" style="font-family:Liberation Serif,serif" stroke="#fff" stroke-width="0.35">4</text></g>
<g transform="matrix(1.0667 0 0 1.3166 835.30 25.00)"><text x="0" y="0" font-size="30" fill="#000" style="font-family:Liberation Serif,serif" stroke="#fff" stroke-width="0.35">,</text></g>
<g transform="matrix(1.1524 0 0 1.0025 906.50 24.70)"><text x="0" y="0" font-size="30" fill="#000" style="font-family:Liberation Serif,serif" stroke="#fff" stroke-width="0.35">1</text></g>
<g transform="matrix(1.2393 0 0 0.9815 815.25 622.15)"><text x="0" y="0" font-size="26" fill="#231f20" style="font-family:Liberation Serif,serif" font-style="italic" stroke="#fff" stroke-width="0.5">&#x3D5;</text></g>
<g transform="matrix(1.2737 0 0 1.0800 830.95 617.20)"><text x="0" y="0" font-size="19" fill="#231f20" >*</text></g>
<g transform="matrix(1.0211 0 0 1.0223 870.10 621.70)"><text x="0" y="0" font-size="25.5" fill="#231f20" >0.2823</text></g>
<g transform="matrix(1.0288 0 0 0.9025 831.50 654.50)"><text x="0" y="0" font-size="26" fill="#231f20" style="font-family:Liberation Serif,serif" font-style="italic" >&#x3C0;</text></g>
<g transform="matrix(1.0244 0 0 1.0223 875.95 654.70)"><text x="0.00" y="0.00" font-size="25.5" fill="#231f20" >0.07&#x2007;73</text><path d="M622,0 L796,0 L796,1409 L650,1409 C630,1290 530,1150 285,1115 L285,1030 L622,1030 Z" fill="#231f20" transform="matrix(0.01245 0 0 -0.01245 49.63 0.00)"/></g>
<g transform="matrix(1.2567 0 0 0.9902 402.50 857.10)"><text x="0" y="0" font-size="26" fill="#231f20" style="font-family:Liberation Serif,serif" font-style="italic" stroke="#fff" stroke-width="0.5">&#x3D5;</text></g>
<g transform="matrix(1.0274 0 0 1.0642 419.60 844.30)"><text x="0.00" y="0.00" font-size="19.5" fill="#231f20" >(&#x2007;)</text><path d="M622,0 L796,0 L796,1409 L650,1409 C630,1290 530,1150 285,1115 L285,1030 L622,1030 Z" fill="#231f20" transform="matrix(0.00952 0 0 -0.00952 6.49 0.00)"/></g>
<g transform="matrix(1.0630 0 0 1.0604 424.60 869.50)"><text x="0" y="0" font-size="19.5" fill="#231f20" >max</text></g>
<g transform="matrix(1.0264 0 0 1.0111 494.45 857.25)"><text x="0" y="0" font-size="25.5" fill="#231f20" >0.2562</text></g>
<g transform="matrix(1.0000 0 0 0.8836 435.00 899.90)"><text x="0" y="0" font-size="26" fill="#231f20" style="font-family:Liberation Serif,serif" font-style="italic" >&#x3C0;</text></g>
<g transform="matrix(1.0158 0 0 1.0000 479.70 900.40)"><text x="0" y="0" font-size="25.5" fill="#231f20" >0.0000</text></g>
<g transform="matrix(1.1786 0 0 0.9699 598.45 1023.75)"><text x="0" y="0" font-size="36" fill="#46484b" style="font-family:Liberation Serif,serif" font-style="italic" stroke="#fff" stroke-width="0.5">&#x3D5;</text></g>
<g transform="matrix(1.0183 0 0 1.0833 631.10 1024.40)"><text x="0" y="0" font-size="36" fill="#46484b" >X</text></g>
<g transform="matrix(1.0647 0 0 1.0585 663.75 1024.85)"><text x="0.00" y="0.00" font-size="36" fill="#46484b" >&#x2007;0</text><path d="M622,0 L796,0 L796,1409 L650,1409 C630,1290 530,1150 285,1115 L285,1030 L622,1030 Z" fill="#46484b" transform="matrix(0.01758 0 0 -0.01758 0.00 0.00)"/></g>
<g transform="matrix(1.1202 0 0 1.1463 703.90 1006.10)"><text x="0" y="0" font-size="25.5" fill="#46484b" >4</text></g>
</svg>
</body></html>
